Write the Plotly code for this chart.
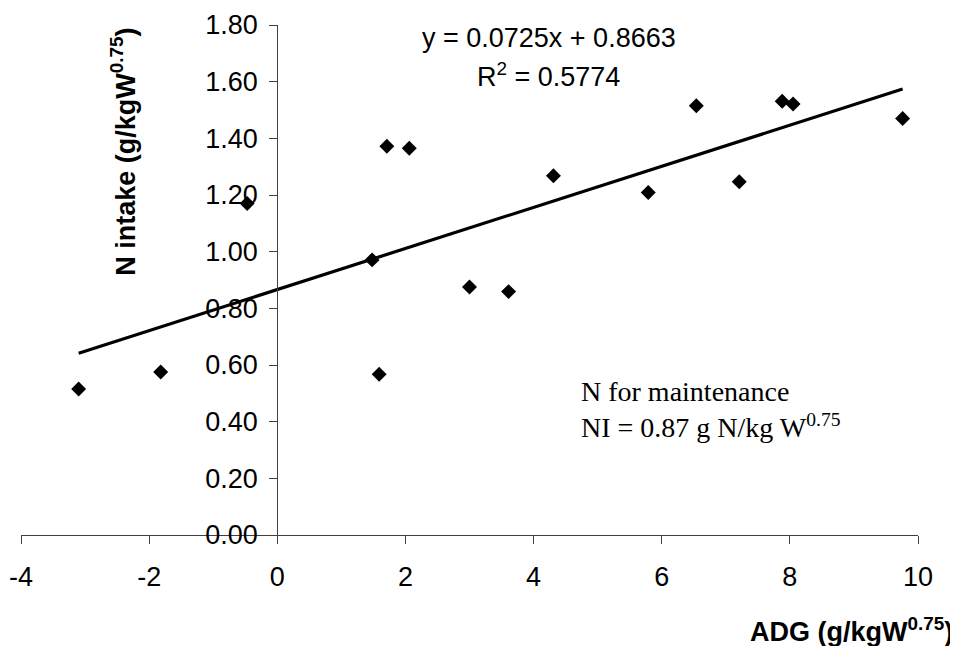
import plotly.graph_objects as go

# Data
adg = [-3.10, -1.82, -0.47, 1.48, 1.71, 2.06, 3.00, 1.59, 4.31, 3.61, 5.79, 6.54, 7.21, 7.88, 8.05, 9.76]
n_intake = [0.515, 0.575, 1.170, 0.971, 1.372, 1.365, 0.875, 0.567, 1.268, 0.859, 1.209, 1.515, 1.247, 1.531, 1.521, 1.470]

slope = 0.0725
intercept = 0.8663
trend_x = [min(adg), max(adg)]
trend_y = [slope * v + intercept for v in trend_x]

x_ticks = [-4, -2, 0, 2, 4, 6, 8, 10]
x_tick_labels = ["-4", "-2", "0", "2", "4", "6", "8", "10"]
y_ticks = [0.0, 0.2, 0.4, 0.6, 0.8, 1.0, 1.2, 1.4, 1.6, 1.8]
y_tick_labels = ["0.00", "0.20", "0.40", "0.60", "0.80", "1.00", "1.20", "1.40", "1.60", "1.80"]

SANS = "Arial, Liberation Sans, sans-serif"
SERIF = "Times New Roman, Liberation Serif, serif"
AXC = "#404040"
FS = 27
FS_SERIF = 28

fig = go.Figure()
fig.add_trace(go.Scatter(x=trend_x, y=trend_y, mode="lines",
                         line=dict(color="black", width=3.2), showlegend=False, hoverinfo="skip"))
fig.add_trace(go.Scatter(x=adg, y=n_intake, mode="markers",
                         marker=dict(symbol="diamond", size=11.5, color="black", line=dict(width=0)),
                         showlegend=False))

fig.update_layout(
    width=958, height=646,
    margin=dict(l=13, r=48, t=17, b=119),
    paper_bgcolor="white", plot_bgcolor="white",
    font=dict(family=SANS, size=FS, color="black"),
    xaxis=dict(range=[-4, 10], tickvals=x_ticks, ticktext=x_tick_labels, ticks="outside", ticklen=8,
               tickcolor=AXC, showline=True, linecolor=AXC, linewidth=1, showgrid=False, zeroline=False,
               tickfont=dict(family=SANS, size=FS), domain=[0, 1], automargin=False,
               ticklabelstandoff=10),
    yaxis=dict(range=[0, 1.8], tickvals=y_ticks, ticktext=y_tick_labels, ticks="outside", ticklen=8,
               tickcolor=AXC, showline=True, linecolor=AXC, linewidth=1, showgrid=False, zeroline=False,
               anchor="free", position=4 / 14, tickfont=dict(family=SANS, size=FS), automargin=False,
               ticklabelstandoff=6),
    annotations=[
        dict(x=4.24, y=1.755, xref="x", yref="y", text="y = 0.0725x + 0.8663", showarrow=False,
             font=dict(family=SANS, size=FS), xanchor="center", yanchor="middle"),
        dict(x=4.24, y=1.625, xref="x", yref="y", text="R<sup>2</sup> = 0.5774", showarrow=False,
             font=dict(family=SANS, size=FS), xanchor="center", yanchor="middle"),
        dict(x=4.71, y=0.442, xref="x", yref="y",
             text="N for maintenance<br>NI = 0.87 g N/kg W<sup>0.75</sup>", showarrow=False,
             font=dict(family=SERIF, size=FS_SERIF), xanchor="left", yanchor="middle", align="left"),
        dict(x=1.041, y=-0.186, xref="paper", yref="paper", text="<b>ADG (g/kgW<sup>0.75</sup>)</b>",
             showarrow=False, font=dict(family=SANS, size=FS), xanchor="right", yanchor="middle"),
        dict(x=0.1137, y=0.7516, xref="paper", yref="paper", text="<b>N intake (g/kgW<sup>0.75</sup>)</b>",
             showarrow=False, textangle=-90, font=dict(family=SANS, size=FS),
             xanchor="center", yanchor="middle"),
    ],
)

fig.write_html("out.html")
